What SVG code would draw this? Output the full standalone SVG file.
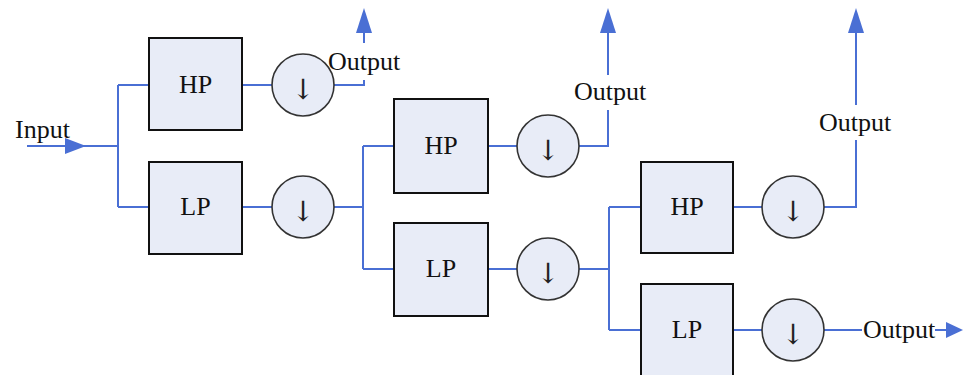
<svg xmlns="http://www.w3.org/2000/svg" width="963" height="375" viewBox="0 0 963 375">
<style>
.box{fill:#e8ecf7;stroke:#111;stroke-width:2}
.dn{fill:#e8ecf7;stroke:#333;stroke-width:1.6}
.w{fill:none;stroke:#4a6fd4;stroke-width:2}
.t{font-family:"Liberation Serif","Times New Roman",serif;font-size:26px;fill:#111}
.c{text-anchor:middle}
.a{font-family:"DejaVu Serif","DejaVu Sans",serif;font-size:28px;fill:#222;text-anchor:middle}
.ah{fill:#4a6fd4}
</style>
<rect width="963" height="375" fill="#fff"/>
<g id="connectors">
<path class="w" d="M27 146H118M118 85V207M118 85H149M118 207H149"/>
<polygon class="ah" points="65,138 86,146 65,154"/>
<path class="w" d="M242 85H272M334 85H364V80M364 43V32"/>
<polygon class="ah" points="356,33 364,8 372,33"/>
<path class="w" d="M242 207H272M334 207H363M363 146V269M363 146H394M363 269H394"/>
<path class="w" d="M488 146H517M579 146H608V110M608 75V32"/>
<polygon class="ah" points="600,33 608,8 616,33"/>
<path class="w" d="M488 269H517M579 269H609M609 207V330M609 207H641M609 330H641"/>
<path class="w" d="M733 207H762M824 207H856V140M856 105V32"/>
<polygon class="ah" points="848,33 856,8 864,33"/>
<path class="w" d="M733 330H762M824 330H862M935 330H948"/>
<polygon class="ah" points="946,322 963,330 946,338"/>
</g>
<g id="input"><text class="t" x="15" y="138">Input</text></g>
<g id="hp1"><rect class="box" x="149" y="38" width="93" height="92"/><text class="t c" x="195.5" y="93">HP</text></g>
<g id="lp1"><rect class="box" x="149" y="162" width="93" height="92"/><text class="t c" x="195.5" y="215">LP</text></g>
<g id="ds1"><circle class="dn" cx="303" cy="85" r="31"/><text class="a" x="303" y="99">↓</text></g>
<g id="ds2"><circle class="dn" cx="303" cy="207" r="31"/><text class="a" x="303" y="221">↓</text></g>
<g id="out1"><text class="t" x="328" y="70">Output</text></g>
<g id="hp2"><rect class="box" x="394" y="99" width="94" height="94"/><text class="t c" x="441" y="154">HP</text></g>
<g id="lp2"><rect class="box" x="394" y="223" width="94" height="93"/><text class="t c" x="441" y="277">LP</text></g>
<g id="ds3"><circle class="dn" cx="548" cy="146" r="31"/><text class="a" x="548" y="160">↓</text></g>
<g id="ds4"><circle class="dn" cx="548" cy="269" r="31"/><text class="a" x="548" y="283">↓</text></g>
<g id="out2"><text class="t" x="574" y="100">Output</text></g>
<g id="hp3"><rect class="box" x="641" y="162" width="92" height="91"/><text class="t c" x="687" y="215">HP</text></g>
<g id="lp3"><rect class="box" x="641" y="284" width="92" height="92"/><text class="t c" x="687" y="338">LP</text></g>
<g id="ds5"><circle class="dn" cx="793" cy="207" r="31"/><text class="a" x="793" y="221">↓</text></g>
<g id="ds6"><circle class="dn" cx="793" cy="330" r="31"/><text class="a" x="793" y="344">↓</text></g>
<g id="out3"><text class="t" x="819" y="131">Output</text></g>
<g id="out4"><text class="t" x="863" y="338">Output</text></g>
</svg>
